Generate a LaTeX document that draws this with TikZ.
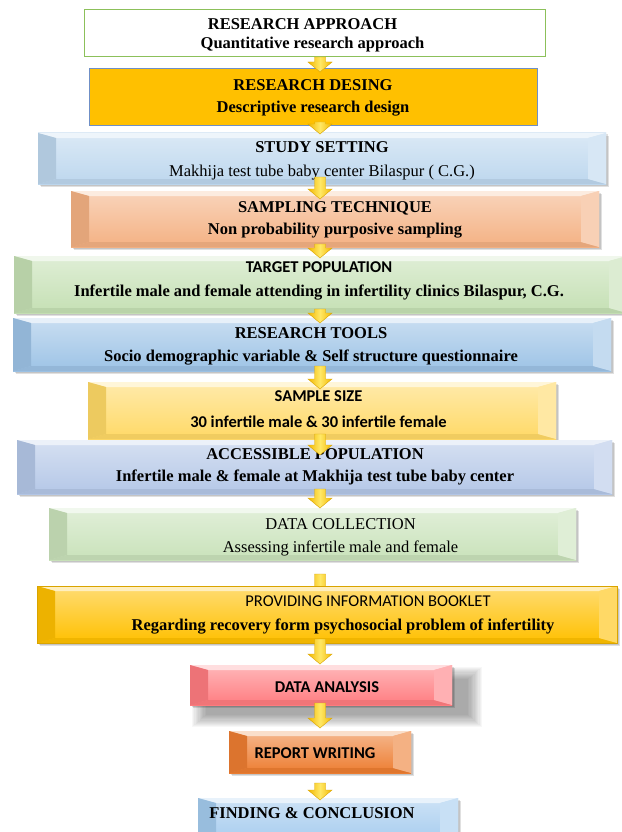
\documentclass[tikz,border=0pt]{standalone}
\usepackage{fontspec}
\setmainfont{Liberation Serif}
\newfontfamily\calfont{Carlito}
\usetikzlibrary{calc}
\definecolor{gborder}{HTML}{8CC05A}
\definecolor{bborder}{HTML}{6F8FC6}
\definecolor{c2}{HTML}{FFC000}
\definecolor{c3}{HTML}{BDD7EE}
\definecolor{c4}{HTML}{F4B183}
\definecolor{c5}{HTML}{C5E0B4}
\definecolor{c6}{HTML}{9DC3E6}
\definecolor{c7}{HTML}{FFD966}
\definecolor{c8}{HTML}{B4C7E7}
\definecolor{c9}{HTML}{C9E2BA}
\definecolor{c10}{HTML}{FFC000}
\definecolor{c11}{HTML}{FF7C80}
\definecolor{c12}{HTML}{ED7D31}
\definecolor{c13}{HTML}{A4CBEE}
\definecolor{arrd}{HTML}{F2B700}
\definecolor{arrl}{HTML}{FFE866}
\definecolor{arre}{HTML}{D9A400}
\def\ax{320pt}
\def\bw{18pt}
\def\bt{5pt}
\newcommand\mkbox[5]{\node[geo, minimum width={(#4-#2)*1pt}, minimum height={(#5-#3)*1pt}] (#1) at ({(#2+#4)/2},{(#3+#5)/2}) {};}
\newcommand\bevbox[2]{%
  \fill[black,opacity=0.12] ($(#1.north west)+(3,3)$) rectangle ($(#1.south east)+(3,3)$);
  \fill[black,opacity=0.12] ($(#1.north west)+(1.5,1.5)$) rectangle ($(#1.south east)+(1.5,1.5)$);
  \shade[top color=#2!55!white, bottom color=#2] (#1.north west) rectangle (#1.south east);
  \fill[#2!25!white] let \p1=(#1.north west), \p2=(#1.south east) in
    (\x1,\y1) -- (\x2,\y1) -- ({\x2-\bw},{\y1-\bt}) -- ({\x1+\bw},{\y1-\bt}) -- cycle;
  \fill[#2!94!black] let \p1=(#1.north west), \p2=(#1.south east) in
    (\x1,\y2) -- (\x2,\y2) -- ({\x2-\bw},{\y2+\bt}) -- ({\x1+\bw},{\y2+\bt}) -- cycle;
  \fill[#2!93!black] let \p1=(#1.north west), \p2=(#1.south east) in
    (\x1,\y1) -- ({\x1+\bw},{\y1-\bt}) -- ({\x1+\bw},{\y2+\bt}) -- (\x1,\y2) -- cycle;
  \fill[#2!60!white] let \p1=(#1.north west), \p2=(#1.south east) in
    (\x2,\y1) -- ({\x2-\bw},{\y1-\bt}) -- ({\x2-\bw},{\y2+\bt}) -- (\x2,\y2) -- cycle;
}
\newcommand\barrow[4]{%
  \draw[blockarrow] let \p1=(#1.south), \p2=(#2.north) in
    ({\ax-5.5pt},{\y1-(#3)*1pt}) -- ({\ax+5.5pt},{\y1-(#3)*1pt}) --
    ({\ax+5.5pt},{\y2-(#4)*1pt+10pt}) -- ({\ax+12pt},{\y2-(#4)*1pt+10pt}) --
    ({\ax},{\y2-(#4)*1pt}) -- ({\ax-12pt},{\y2-(#4)*1pt+10pt}) --
    ({\ax-5.5pt},{\y2-(#4)*1pt+10pt}) -- cycle;}
\begin{document}
\begin{tikzpicture}[x=1pt,y=-1pt,
  geo/.style={rectangle, inner sep=0pt, outer sep=0pt, draw=none},
  tr/.style={anchor=base, inner sep=0pt, font=\fontsize{16.5}{18}\selectfont},
  trb/.style={anchor=base, inner sep=0pt, font=\fontsize{16.5}{18}\selectfont\bfseries},
  cb/.style={anchor=base, inner sep=0pt, font=\calfont\fontsize{16.5}{18}\selectfont\bfseries},
  cr/.style={anchor=base, inner sep=0pt, font=\calfont\fontsize{16.5}{18}\selectfont},
  blockarrow/.style={left color=arrd, right color=arrd, middle color=arrl, draw=arre, line width=0.4pt}]
\useasboundingbox (0,0) rectangle (621,832);
\fill[white] (0,0) rectangle (621,832);
% geometry of the boxes
\mkbox{n1}{84}{10}{545}{57}
\mkbox{n2}{89}{69}{537}{126}
\mkbox{n3}{38}{133}{606}{184}
\mkbox{n4}{71}{191}{599}{247}
\mkbox{n5}{14}{256}{627}{313}
\mkbox{n6}{13}{318}{611}{371}
\mkbox{n7}{88}{382}{556}{439}
\mkbox{n8}{17}{440}{612}{494}
\mkbox{n9}{49}{508}{576}{560}
\mkbox{n10}{37}{586}{617}{643}
\mkbox{n11}{190}{665}{452}{705}
\mkbox{n12}{229}{731}{411}{773}
\mkbox{n13}{198}{798}{458}{845}
% box 1 and 2
\draw[gborder, line width=1pt, fill=white] (n1.north west) rectangle (n1.south east);
\draw[bborder, line width=1pt, fill=c2] (n2.north west) rectangle (n2.south east);
\bevbox{n3}{c3}
\bevbox{n4}{c4}
\bevbox{n5}{c5}
\bevbox{n6}{c6}
\bevbox{n7}{c7}
\bevbox{n8}{c8}
\bevbox{n9}{c9}
\barrow{n9}{n10}{14}{14}
\bevbox{n10}{c10}
\draw[arre, line width=0.6pt] (n10.north west) rectangle (n10.south east);
\foreach \i in {0,...,11} {
  \fill[black, opacity=0.03] ($(n11.north west)+({16-\i*1.3},{14-\i*1.1})$) rectangle ($(n11.south east)+({16+\i*1.3},{10+\i*1.1})$);
}
\bevbox{n11}{c11}
\bevbox{n12}{c12}
\bevbox{n13}{c13}
% texts
\node[trb] (t1a) at (302.5,30) {RESEARCH APPROACH};
\node[trb] (t1b) at (312.5,49) {Quantitative research approach};
\node[trb] (t2a) at (313,91) {RESEARCH DESING};
\node[trb] (t2b) at (313,113) {Descriptive research design};
\node[trb] (t3a) at (322,153) {STUDY SETTING};
\node[tr] (t3b) at (322,176) {Makhija test tube baby center Bilaspur ( C.G.)};
\node[trb] (t4a) at (335,212) {SAMPLING TECHNIQUE};
\node[trb] (t4b) at (335,234) {Non probability purposive sampling};
\node[cb] (t5a) at (319,272) {TARGET POPULATION};
\node[trb] (t5b) at (319,296) {Infertile male and female attending in infertility clinics Bilaspur, C.G.};
\node[trb] (t6a) at (311,338) {RESEARCH TOOLS};
\node[trb] (t6b) at (311,361) {Socio demographic variable \& Self structure questionnaire};
\node[cb] (t7a) at (318.5,401) {SAMPLE SIZE};
\node[cb] (t7b) at (318.5,427) {30 infertile male \& 30 infertile female};
\node[trb] (t8a) at (315,459) {ACCESSIBLE POPULATION};
\node[trb] (t8b) at (315,481) {Infertile male \& female at Makhija test tube baby center};
\node[tr] (t9a) at (340.5,529) {DATA COLLECTION};
\node[tr] (t9b) at (340.5,552) {Assessing infertile male and female};
\node[cr] (t10a) at (368,606) {PROVIDING INFORMATION BOOKLET};
\node[trb] (t10b) at (343,630) {Regarding recovery form psychosocial problem of infertility};
\node[cb] (t11) at (327,692) {DATA ANALYSIS};
\node[cb] (t12) at (315,758) {REPORT WRITING};
\node[trb] (t13) at (312,818) {FINDING \& CONCLUSION};
% arrows
\barrow{n1}{n2}{0}{3}
\barrow{n2}{n3}{-4}{1}
\barrow{n3}{n4}{-7}{8}
\barrow{n4}{n5}{-3}{2}
\barrow{n5}{n6}{-4}{5}
\barrow{n6}{n7}{-5}{7}
\barrow{n7}{n8}{-5}{15}
\barrow{n8}{n9}{-5}{0}
\barrow{n10}{n11}{-4}{-1}
\barrow{n11}{n12}{-2}{-3}
\barrow{n12}{n13}{10}{2}
\end{tikzpicture}
\end{document}
